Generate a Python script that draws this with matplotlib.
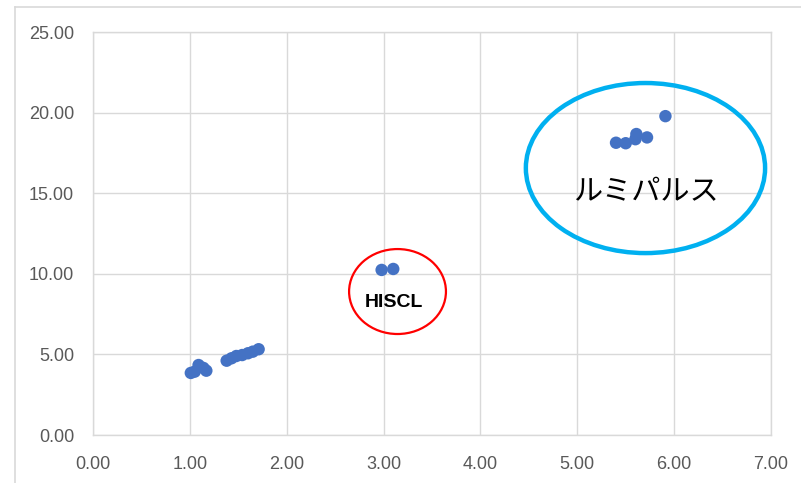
import matplotlib
matplotlib.use("Agg")
import matplotlib.pyplot as plt
from matplotlib.patches import Ellipse
from matplotlib.lines import Line2D

# data
x_low = [1.01, 1.05, 1.09, 1.14, 1.17, 1.38, 1.43, 1.48, 1.54, 1.60, 1.65, 1.71]
y_low = [3.85, 3.93, 4.34, 4.16, 3.99, 4.61, 4.76, 4.90, 4.96, 5.07, 5.17, 5.32]
x_hiscl = [2.98, 3.10]
y_hiscl = [10.24, 10.30]
x_lumi = [5.40, 5.50, 5.60, 5.61, 5.72, 5.91]
y_lumi = [18.13, 18.10, 18.35, 18.67, 18.46, 19.78]

xticks = [0, 1, 2, 3, 4, 5, 6, 7]
yticks = [0, 5, 10, 15, 20, 25]

C_DOT = "#4472C4"; C_GRID = "#d9d9d9"; C_TXT = "#595959"

fig = plt.figure(figsize=(8.01, 4.83), dpi=100)
ax = fig.add_axes([93/801, 1-435/483, 678/801, 403/483])

xs = x_low + x_hiscl + x_lumi
ys = y_low + y_hiscl + y_lumi
ax.scatter(xs, ys, s=80, color=C_DOT, edgecolor="none", zorder=3)

ax.set_xlim(0, 7); ax.set_ylim(0, 25)
ax.set_xticks(xticks); ax.set_yticks(yticks)
ax.set_xticklabels([f"{v:.2f}" for v in xticks])
ax.set_yticklabels([f"{v:.2f}" for v in yticks])
ax.grid(True, color=C_GRID, lw=1, zorder=0)
for s in ax.spines.values():
    s.set_color(C_GRID); s.set_linewidth(1)
ax.tick_params(length=0, labelcolor=C_TXT, labelsize=13)
ax.tick_params(axis="x", pad=15)
ax.tick_params(axis="y", pad=13.5)
for lab in ax.get_xticklabels() + ax.get_yticklabels():
    lab.set_family("Liberation Sans")

# annotations: circles around groups
ax.add_patch(Ellipse((3.144, 8.90), 1.0, 5.27, fill=False, edgecolor="#FF0000", lw=1.6, zorder=4, clip_on=False))
ax.text(3.11, 8.25, "HISCL", ha="center", va="center", fontsize=14, weight="bold",
        family="Liberation Sans", color="black", zorder=5)
ax.add_patch(Ellipse((5.704, 16.56), 2.47, 10.55, fill=False, edgecolor="#00B0F0", lw=3.2, zorder=4, clip_on=False))
ax.text(5.71, 15.07, "ルミパルス", ha="center", va="center", fontsize=21,
        family=["Noto Sans CJK JP", "DejaVu Sans"], color="black", zorder=5)

# chart area border (cut off at right/bottom)
fig.add_artist(Line2D([15/801, 15/801], [0, 1-7/483], color=C_GRID, lw=1.2, transform=fig.transFigure))
fig.add_artist(Line2D([15/801, 1], [1-7/483, 1-7/483], color=C_GRID, lw=1.2, transform=fig.transFigure))

fig.savefig("out.png", dpi=100, facecolor="white")
